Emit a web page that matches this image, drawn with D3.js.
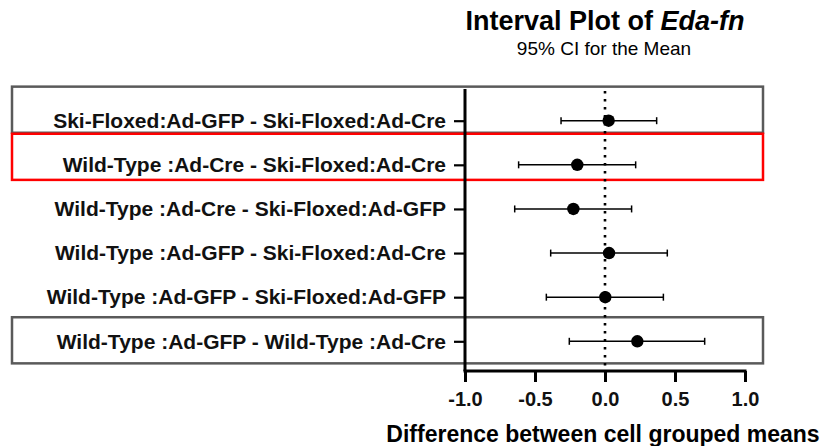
<!DOCTYPE html>
<html>
<head>
<meta charset="utf-8">
<script src="https://cdn.jsdelivr.net/npm/d3@7"></script>
<style>
  body { margin: 0; background: #fff; }
  svg { display: block; font-family: "Liberation Sans", Arial, sans-serif; }
</style>
</head>
<body>
<script>
// comparisons, top to bottom
const comparisons = [
  'Ski-Floxed:Ad-GFP - Ski-Floxed:Ad-Cre',
  'Wild-Type :Ad-Cre - Ski-Floxed:Ad-Cre',
  'Wild-Type :Ad-Cre - Ski-Floxed:Ad-GFP',
  'Wild-Type :Ad-GFP - Ski-Floxed:Ad-Cre',
  'Wild-Type :Ad-GFP - Ski-Floxed:Ad-GFP',
  'Wild-Type :Ad-GFP - Wild-Type :Ad-Cre'
];
const means = [0.026, -0.198, -0.226, 0.029, 0.002, 0.231];
const lower = [-0.314, -0.617, -0.645, -0.388, -0.419, -0.255];
const upper = [0.369, 0.219, 0.190, 0.445, 0.417, 0.712];
const xTicks = [-1.0, -0.5, 0.0, 0.5, 1.0];

// highlighted rows
const boxRows = [0, 5, 1];
const boxColors = ['#5a5a5a', '#5a5a5a', '#ff0000'];

const data = comparisons.map((c, i) => ({name: c, mean: means[i], lo: lower[i], hi: upper[i]}));

const width = 825, height = 446;
const plot = {left: 465, right: 745, top: 89, bottom: 371};

const svg = d3.select('body').append('svg')
  .attr('width', width)
  .attr('height', height);

const x = d3.scaleLinear().domain([-1, 1]).range([plot.left, plot.right]);
const y = d3.scalePoint().domain(comparisons).range([120.7, 341.3]);
const step = y.step();

// title
svg.append('text')
  .attr('x', 605).attr('y', 30)
  .attr('text-anchor', 'middle')
  .attr('font-size', 27).attr('font-weight', 'bold')
  .call(t => {
    t.append('tspan').text('Interval Plot of ');
    t.append('tspan').attr('font-style', 'italic').text('Eda-fn');
  });
svg.append('text')
  .attr('x', 604).attr('y', 55)
  .attr('text-anchor', 'middle')
  .attr('font-size', 19)
  .text('95% CI for the Mean');

// highlight boxes
const boxShift = [-10, 0, -7];
svg.append('g').selectAll('rect')
  .data(boxRows)
  .join('rect')
  .attr('x', 12)
  .attr('y', (r, i) => y(comparisons[r]) - step / 2 + boxShift[i] - 2)
  .attr('width', 751)
  .attr('height', step + 2)
  .attr('fill', 'none')
  .attr('stroke', (r, i) => boxColors[i])
  .attr('stroke-width', 2.5);

// zero reference line
svg.append('line')
  .attr('x1', x(0)).attr('x2', x(0))
  .attr('y1', plot.top + 2).attr('y2', plot.bottom)
  .attr('stroke', '#000')
  .attr('stroke-width', 2.6)
  .attr('stroke-dasharray', '2.6,5.4');

// error bars
const bars = svg.append('g').selectAll('g')
  .data(data)
  .join('g')
  .attr('transform', d => `translate(0,${y(d.name)})`);

bars.append('line')
  .attr('x1', d => x(d.lo)).attr('x2', d => x(d.hi))
  .attr('stroke', '#000').attr('stroke-width', 1.5);
bars.append('line')
  .attr('x1', d => x(d.lo)).attr('x2', d => x(d.lo))
  .attr('y1', -3.5).attr('y2', 3.5)
  .attr('stroke', '#000').attr('stroke-width', 1.5);
bars.append('line')
  .attr('x1', d => x(d.hi)).attr('x2', d => x(d.hi))
  .attr('y1', -3.5).attr('y2', 3.5)
  .attr('stroke', '#000').attr('stroke-width', 1.5);
bars.append('circle')
  .attr('cx', d => x(d.mean))
  .attr('r', 6.2)
  .attr('fill', '#000');

// y axis
const yAxis = svg.append('g')
  .attr('transform', `translate(${plot.left},0)`)
  .call(d3.axisLeft(y).tickSize(11).tickPadding(8));
yAxis.select('.domain').remove();
yAxis.append('line')
  .attr('y1', plot.top).attr('y2', plot.bottom)
  .attr('stroke', '#000').attr('stroke-width', 3);
yAxis.selectAll('.tick line').attr('stroke-width', 2.2);
yAxis.selectAll('.tick text')
  .attr('font-size', 21).attr('font-weight', 'bold')
  .attr('font-family', '"Liberation Sans", Arial, sans-serif')
  .attr('fill', '#111');

// x axis
const xAxis = svg.append('g')
  .attr('transform', `translate(0,${plot.bottom})`)
  .call(d3.axisBottom(x).tickValues(xTicks)
    .tickFormat(d => d3.format('.1f')(d).replace('\u2212', '-'))
    .tickSize(11).tickPadding(10));
xAxis.select('.domain').remove();
xAxis.append('line')
  .attr('x1', plot.left - 1.5).attr('x2', plot.right + 1.5)
  .attr('stroke', '#000').attr('stroke-width', 3);
xAxis.selectAll('.tick line').attr('stroke-width', 3);
xAxis.selectAll('.tick text')
  .attr('font-size', 20).attr('font-weight', 'bold')
  .attr('font-family', '"Liberation Sans", Arial, sans-serif')
  .attr('fill', '#111');

svg.append('text')
  .attr('x', 603).attr('y', 442)
  .attr('text-anchor', 'middle')
  .attr('font-size', 23).attr('font-weight', 'bold')
  .text('Difference between cell grouped means');
</script>
</body>
</html>
